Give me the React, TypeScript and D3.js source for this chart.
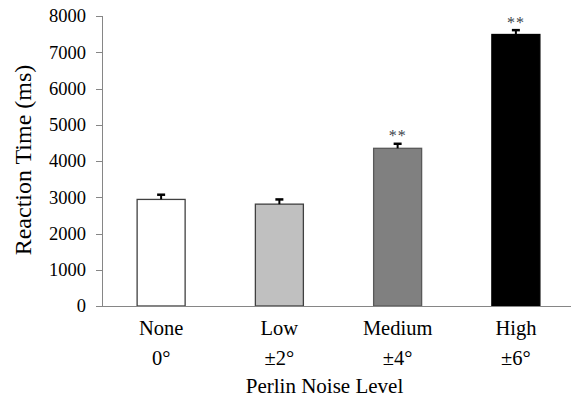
import React from "react";
import * as d3 from "d3";

const categories = ["None", "Low", "Medium", "High"];
const subLabels = ["0°", "±2°", "±4°", "±6°"];
const means = [2940, 2810, 4350, 7490];
const errors = [130, 130, 125, 120];
const significance = ["", "", "**", "**"];
const fills = ["#ffffff", "#c0c0c0", "#808080", "#000000"];
const strokes = ["#404040", "#404040", "#595959", "#000000"];
const yTicks = [0, 1000, 2000, 3000, 4000, 5000, 6000, 7000, 8000];

const W = 571;
const H = 401;
const FONT = "'Liberation Serif', 'Times New Roman', serif";

export default function App() {
  const x = d3
    .scaleBand<string>()
    .domain(categories)
    .range([102, 575])
    .paddingInner(0.594)
    .paddingOuter(0.297);
  const y = d3.scaleLinear().domain([0, 8000]).range([306, 16]);
  const axisColor = "#868686";

  return (
    <svg
      width={W}
      height={H}
      style={{ position: "absolute", left: 0, top: 0, background: "#fff" }}
    >
      {/* y axis */}
      <line x1={102.5} x2={102.5} y1={y(8000)} y2={y(0)} stroke={axisColor} strokeWidth={1} />
      {yTicks.map((t) => (
        <g key={t}>
          <line x1={96} x2={102.5} y1={Math.round(y(t)) + 0.5} y2={Math.round(y(t)) + 0.5} stroke={axisColor} />
          <text
            x={86}
            y={y(t)}
            dy="0.35em"
            textAnchor="end"
            fontFamily={FONT}
            fontSize={18.5}
            fill="#000"
          >
            {t}
          </text>
        </g>
      ))}
      {/* bars */}
      {categories.map((c, i) => {
        const bx = x(c)!;
        const bw = x.bandwidth();
        const cx = bx + bw / 2;
        return (
          <g key={c}>
            <rect
              x={bx}
              y={y(means[i])}
              width={bw}
              height={y(0) - y(means[i])}
              fill={fills[i]}
              stroke={strokes[i]}
              strokeWidth={1.3}
            />
            <line x1={cx} x2={cx} y1={y(means[i])} y2={y(means[i] + errors[i])} stroke="#000" strokeWidth={2} />
            <line
              x1={cx - 4}
              x2={cx + 4}
              y1={y(means[i] + errors[i])}
              y2={y(means[i] + errors[i])}
              stroke="#000"
              strokeWidth={2.5}
            />
            {significance[i] && (
              <text
                x={cx}
                y={y(means[i] + errors[i]) - 8}
                dy="0.35em"
                textAnchor="middle"
                fontFamily={FONT}
                fontSize={16}
                letterSpacing={1}
                fill="#3a3f4a"
              >
                {significance[i]}
              </text>
            )}
            <text x={cx} y={335} textAnchor="middle" fontFamily={FONT} fontSize={20.5} fill="#000">
              {c}
            </text>
            <text x={cx} y={365} textAnchor="middle" fontFamily={FONT} fontSize={20.5} fill="#000">
              {subLabels[i]}
            </text>
          </g>
        );
      })}
      {/* x axis */}
      <line x1={102} x2={575} y1={306.5} y2={306.5} stroke={axisColor} strokeWidth={1} />
      {/* axis titles */}
      <text x={324.5} y={392.5} textAnchor="middle" fontFamily={FONT} fontSize={21} fill="#000">
        Perlin Noise Level
      </text>
      <text
        transform={`translate(31,160) rotate(-90)`}
        textAnchor="middle"
        fontFamily={FONT}
        fontSize={24}
        fill="#000"
      >
        Reaction Time (ms)
      </text>
    </svg>
  );
}
